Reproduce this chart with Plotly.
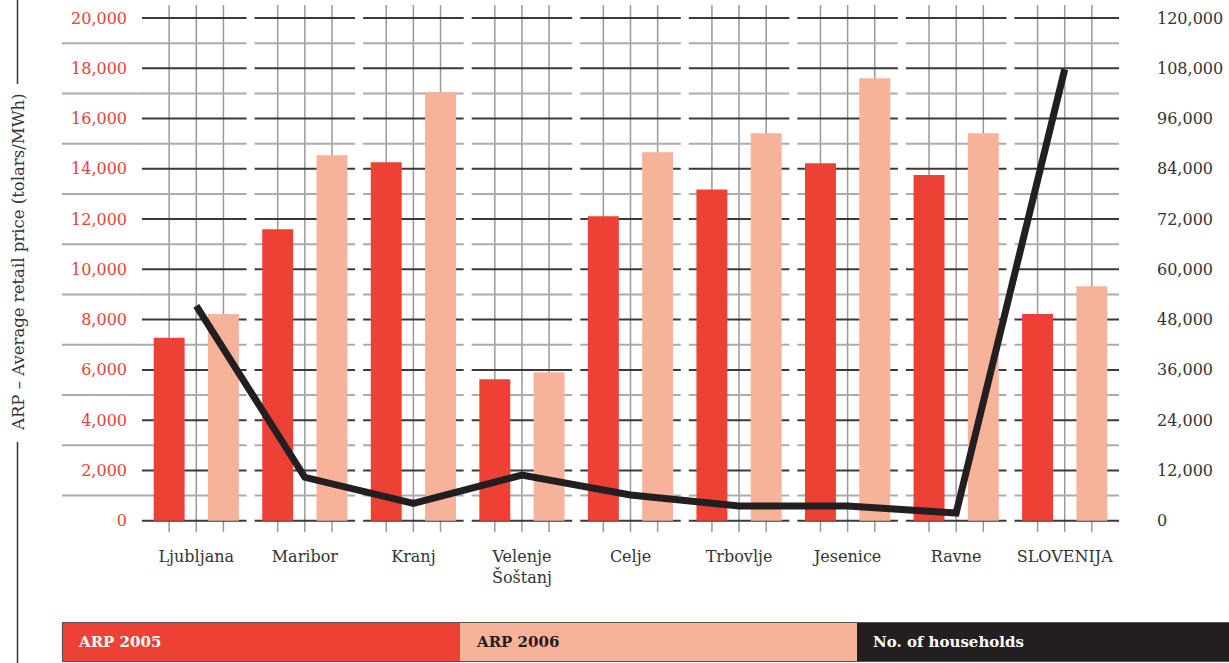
import plotly.graph_objects as go

# data
cities = ["Ljubljana", "Maribor", "Kranj", "Velenje<br>Šoštanj", "Celje",
          "Trbovlje", "Jesenice", "Ravne", "SLOVENIJA"]
arp_2005 = [7280, 11600, 14260, 5630, 12110, 13180, 14220, 13750, 8220]
arp_2006 = [8220, 14540, 17050, 5910, 14660, 15410, 17600, 15410, 9330]
households = [51250, 10360, 4150, 10900, 6130, 3510, 3500, 1840, 107750]

left_ticks = list(range(0, 20001, 2000))
right_ticks = list(range(0, 120001, 12000))

RED = "#ee4136"
SALMON = "#f7b29a"
DARK = "#231f20"
FONT = "DejaVu Serif"

W, H = 1229, 663
L, R, T, B = 142, 110, 5, 131
PW, PH = W - L - R, H - T - B


def px_x(p):
    return (p - L) / PW


def px_y(p):
    return (H - B - p) / PH


fig = go.Figure()
fig.add_bar(x=cities, y=arp_2005, name="ARP 2005", marker_color=RED,
            marker_line_width=0, width=0.285, offset=-0.3925)
fig.add_bar(x=cities, y=arp_2006, name="ARP 2006", marker_color=SALMON,
            marker_line_width=0, width=0.285, offset=0.1075)
fig.add_scatter(x=cities, y=households, yaxis="y2", mode="lines", name="No. of households",
                line=dict(color=DARK, width=7))

shapes = []
# vertical grid, three lines per category
for i in range(len(cities)):
    for off in (-0.25, 0, 0.25):
        shapes.append(dict(type="line", xref="x", yref="paper", x0=i + off, x1=i + off,
                           y0=0, y1=1, line=dict(color="#999999", width=1.5), layer="below"))
# horizontal grid, broken between categories
g = 0.037
n = len(cities)
for v in range(0, 20001, 1000):
    major = v % 2000 == 0
    col = "#3a3a3a" if major else "#ababab"
    for i in range(n):
        x0 = -0.5 if i == 0 else i - 0.5 + g
        x1 = n - 0.5 if i == n - 1 else i + 0.5 - g
        shapes.append(dict(type="line", xref="x", yref="y", x0=x0, x1=x1, y0=v, y1=v,
                           line=dict(color=col, width=2), layer="below"))
    if not major:
        shapes.append(dict(type="line", xref="paper", yref="y", x0=px_x(62), x1=0.001,
                           y0=v, y1=v, line=dict(color=col, width=2), layer="below"))

# side rule around the axis title
for a, b in ((0, 84), (442, 663)):
    shapes.append(dict(type="line", xref="paper", yref="paper", x0=px_x(17.5), x1=px_x(17.5),
                       y0=px_y(a), y1=px_y(b), line=dict(color="#333333", width=1.5)))

# legend strip
strip = [(62, 460, RED), (460, 857, SALMON), (857, 1229, DARK)]
for a, b, c in strip:
    shapes.append(dict(type="rect", xref="paper", yref="paper", x0=px_x(a), x1=px_x(b),
                       y0=px_y(622.5), y1=px_y(661.5), fillcolor=c, line=dict(width=0)))
shapes.append(dict(type="rect", xref="paper", yref="paper", x0=px_x(62.5), x1=px_x(1230),
                   y0=px_y(622.5), y1=px_y(661.5), line=dict(color="#555555", width=1.2)))

annotations = [
    dict(text="ARP – Average retail price (tolars/MWh)", xref="paper", yref="paper",
         x=px_x(18), y=px_y(262), textangle=-90, showarrow=False,
         font=dict(family=FONT, size=16.5, color="#333333"), xanchor="center", yanchor="middle"),
    dict(text="<b>ARP 2005</b>", xref="paper", yref="paper", x=px_x(76), y=px_y(642),
         showarrow=False, xanchor="left", yanchor="middle",
         font=dict(family=FONT, size=15, color="white")),
    dict(text="<b>ARP 2006</b>", xref="paper", yref="paper", x=px_x(474), y=px_y(642),
         showarrow=False, xanchor="left", yanchor="middle",
         font=dict(family=FONT, size=15, color=DARK)),
    dict(text="<b>No. of households</b>", xref="paper", yref="paper", x=px_x(871), y=px_y(642),
         showarrow=False, xanchor="left", yanchor="middle",
         font=dict(family=FONT, size=15, color="white")),
]

fig.update_layout(
    width=W, height=H,
    margin=dict(l=L, r=R, t=T, b=B, autoexpand=False),
    paper_bgcolor="white", plot_bgcolor="white",
    showlegend=False,
    barmode="overlay",
    font=dict(family=FONT, size=16, color="#333333"),
    xaxis=dict(range=[-0.5, n - 0.5], showgrid=False, zeroline=False, showline=False,
               ticks="", ticklabelstandoff=13, tickfont=dict(size=16, color="#333333")),
    yaxis=dict(range=[-450, 20517], tickvals=left_ticks, tickformat=",", showgrid=False,
               zeroline=False, showline=False, ticks="", ticklabelstandoff=14,
               tickfont=dict(size=16, color=RED), automargin=False),
    yaxis2=dict(range=[-2700, 123100], tickvals=right_ticks, tickformat=",", overlaying="y",
                side="right", showgrid=False, zeroline=False, showline=False, ticks="",
                ticklabelstandoff=37, tickfont=dict(size=16, color="#333333"),
                automargin=False),
    shapes=shapes,
    annotations=annotations,
)

fig.write_html("out.html", config={"displayModeBar": False},
               post_script="document.body.style.margin = '0';")
